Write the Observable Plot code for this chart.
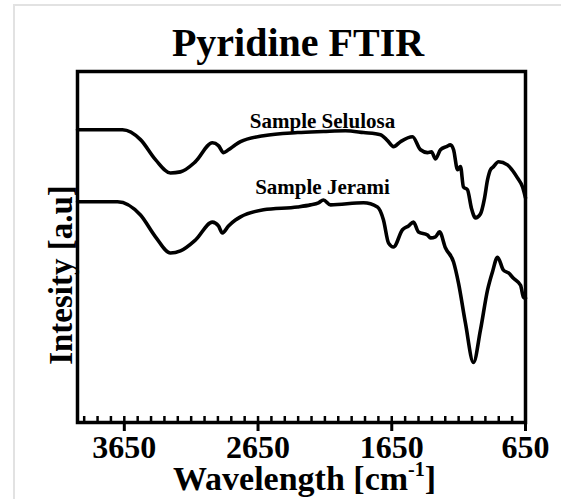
<!DOCTYPE html>
<html><head><meta charset="utf-8">
<script src="https://cdn.jsdelivr.net/npm/d3@7"></script>
<script src="https://cdn.jsdelivr.net/npm/@observablehq/plot@0.6"></script>
<style>
body{margin:0;background:#fff;}
#wrap{position:relative;width:561px;height:499px;overflow:hidden;font-family:"Liberation Serif","Times New Roman",serif;color:#000;}
#border{position:absolute;left:13px;top:4px;width:700px;height:700px;border-left:2px solid #e2e2e2;border-top:2px solid #e2e2e2;}
#title{position:absolute;left:0;top:23px;width:596px;text-align:center;font-size:40px;line-height:40px;font-weight:bold;white-space:nowrap;}
#xlabel{position:absolute;left:0;top:462px;width:609px;text-align:center;font-size:34px;line-height:34px;font-weight:bold;white-space:nowrap;}
#xlabel sup{font-size:20px;vertical-align:baseline;position:relative;top:-14px;}
#chart{position:absolute;left:0;top:0;}
</style></head>
<body>
<div id="wrap">
<div id="border"></div>
<div id="chart"></div>
<div id="title">Pyridine FTIR</div>
<div id="xlabel">Wavelength [cm<sup>-1</sup>]</div>
</div>
<script>
// Wavenumber (cm^-1) and relative intensity values
const selulosaWavenumber = [4000,3664,3529,3417,3305,3230,3118,2991,2946,2908,2871,2819,2781,2609,2355,2161,1996,1861,1734,1682,1637,1585,1495,1435,1383,1353,1323,1286,1241,1211,1188,1158,1136,1114,1084,1054,1024,987,957,934,912,889,852,785,710,672,650];
const selulosaIntensity  = [83.4,83.4,80.6,74.9,71.1,71.4,74.3,79.7,78.9,76.9,77.7,79.1,80.0,81.7,82.6,82.9,83.1,82.6,82.0,80.3,78.6,80.0,81.4,77.7,76.9,77.1,75.1,77.7,78.6,79.1,77.7,72.0,72.9,67.1,66.3,61.0,58.3,59.4,63.8,69.1,72.0,72.9,74.3,73.4,69.7,67.1,64.0];

const jeramiWavenumber = [4000,3701,3529,3417,3305,3230,3118,2991,2946,2916,2871,2819,2781,2609,2355,2258,2198,2161,2108,1861,1757,1712,1674,1637,1570,1525,1488,1450,1383,1360,1323,1293,1248,1188,1151,1099,1039,987,934,897,859,815,777,740,687,665,650];
const jeramiIntensity  = [62.9,62.9,59.1,52.9,48.3,48.9,52.0,57.1,56.0,54.0,56.0,57.7,58.6,60.6,61.4,62.0,62.6,63.4,62.0,62.6,61.4,57.7,51.1,50.0,54.9,56.0,57.1,54.3,53.4,52.6,52.9,54.3,49.7,45.7,39.7,28.3,17.1,26.3,37.7,42.9,47.1,43.4,42.6,41.1,39.1,35.7,35.4];

const seriesNames = ["Sample Selulosa", "Sample Jerami"];
const labelWavenumber = [2168, 2168];
const labelIntensity = [84.0, 65.1];

const xTicks = [3650, 2650, 1650, 650];
const minorTicks = d3.range(650, 4000, 100);

const rows = [
  ...selulosaWavenumber.map((w, i) => ({series: seriesNames[0], w, v: selulosaIntensity[i]})),
  ...jeramiWavenumber.map((w, i) => ({series: seriesNames[1], w, v: jeramiIntensity[i]}))
];
const labels = seriesNames.map((name, i) => ({name, w: labelWavenumber[i], v: labelIntensity[i]}));

const FONT = '"Liberation Serif","Times New Roman",serif';
const W = 561, H = 499, mT = 71, mB = 77, mL = 77, mR = 36;
const plot = Plot.plot({
  width: W, height: H,
  marginTop: mT, marginBottom: mB, marginLeft: mL, marginRight: mR,
  style: {fontFamily: FONT, color: "#000", background: "transparent"},
  x: {domain: [4000, 650], label: null},
  y: {domain: [0, 100], axis: null},
  marks: [
    Plot.line(rows, {x: "w", y: "v", z: "series", curve: "monotone-x", stroke: "#000", strokeWidth: 3.6, strokeLinejoin: "round", strokeLinecap: "round"}),
    Plot.ruleX(minorTicks, {x: d => d, insetTop: H - mT - mB - 6, stroke: "#000", strokeWidth: 2.5}),
    Plot.axisX(xTicks, {tickSize: 9, tickPadding: 4, strokeWidth: 3, fontSize: 32, fontWeight: "bold", fontFamily: FONT, label: null, tickFormat: d => String(d)}),
    Plot.text(labels, {x: "w", y: "v", text: "name", fontSize: 21, fontWeight: "bold", fontFamily: FONT, lineAnchor: "bottom", fill: "#000"}),
    Plot.text(["Intesity [a.u]"], {frameAnchor: "left", textAnchor: "middle", rotate: -90, dx: -6, dy: 28, lineAnchor: "bottom", fontSize: 33, fontWeight: "bold", fontFamily: FONT, fill: "#000"}),
    Plot.frame({stroke: "#000", strokeWidth: 3.5})
  ]
});
document.getElementById("chart").appendChild(plot);
</script>
</body></html>
